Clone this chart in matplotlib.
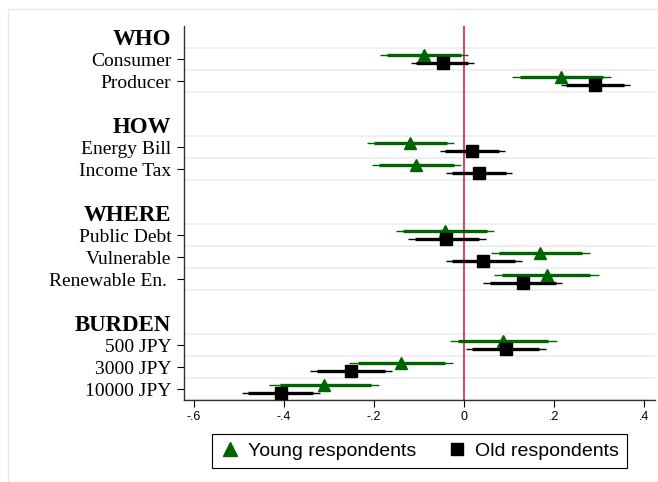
import matplotlib
matplotlib.use("Agg")
import matplotlib.pyplot as plt
from matplotlib.lines import Line2D
from matplotlib.patches import Rectangle

# ---- data ----
labels = ["WHO", "Consumer", "Producer", "",
          "HOW", "Energy Bill", "Income Tax", "",
          "WHERE", "Public Debt", "Vulnerable", "Renewable En. ", "",
          "BURDEN", "500 JPY", "3000 JPY", "10000 JPY"]
headers = ["WHO", "HOW", "WHERE", "BURDEN"]
rows = [1, 2, 5, 6, 9, 10, 11, 14, 15, 16]

young_est  = [-0.089, 0.215, -0.120, -0.107, -0.042, 0.169, 0.184, 0.086, -0.141, -0.311]
young_lo90 = [-0.171, 0.124, -0.200, -0.188, -0.135, 0.078, 0.085, -0.013, -0.236, -0.409]
young_hi90 = [-0.007, 0.308, -0.037, -0.022, 0.050, 0.263, 0.280, 0.187, -0.042, -0.207]
young_lo95 = [-0.187, 0.106, -0.215, -0.205, -0.152, 0.059, 0.067, -0.031, -0.255, -0.433]
young_hi95 = [0.009, 0.326, -0.022, -0.007, 0.067, 0.281, 0.300, 0.206, -0.025, -0.188]

old_est  = [-0.047, 0.291, 0.018, 0.033, -0.039, 0.043, 0.130, 0.093, -0.251, -0.407]
old_lo90 = [-0.107, 0.227, -0.042, -0.027, -0.109, -0.026, 0.058, 0.017, -0.327, -0.479]
old_hi90 = [0.009, 0.356, 0.078, 0.093, 0.033, 0.113, 0.204, 0.167, -0.176, -0.335]
old_lo95 = [-0.118, 0.215, -0.053, -0.040, -0.124, -0.041, 0.043, 0.004, -0.342, -0.494]
old_hi95 = [0.022, 0.369, 0.091, 0.106, 0.048, 0.128, 0.217, 0.182, -0.161, -0.320]

xticks = [-0.6, -0.4, -0.2, 0, 0.2, 0.4]
xticklabels = ["-.6", "-.4", "-.2", "0", ".2", ".4"]

legend_labels = ["Young respondents", "Old respondents"]

# ---- style ----
GREEN = "#006400"
BLACK = "#000000"
RED = "#d0103a"
GRID = "#eaeff2"
off = 0.19

fig = plt.figure(figsize=(6.58, 4.82), dpi=100)
fig.patches.append(Rectangle((8 / 658, 0), 1.0, 1 - 9 / 482, transform=fig.transFigure,
                             fill=False, edgecolor="#e3eaed", linewidth=1.0, zorder=0))
ax = fig.add_axes([184 / 658, 1 - 400 / 482, (655 - 184) / 658, (400 - 26) / 482])

# gridlines at row boundaries
for r in rows:
    for g in (r - 0.5, r + 0.5):
        ax.axhline(g, color=GRID, linewidth=1.3, zorder=0)

ax.axvline(0, color=RED, linewidth=1.1, zorder=1)

for i, r in enumerate(rows):
    y = r - off
    ax.plot([young_lo95[i], young_hi95[i]], [y, y], color=GREEN, linewidth=1.0, zorder=2,
            solid_capstyle="butt")
    ax.plot([young_lo90[i], young_hi90[i]], [y, y], color=GREEN, linewidth=2.4, zorder=2,
            solid_capstyle="butt")
    y = r + off
    ax.plot([old_lo95[i], old_hi95[i]], [y, y], color=BLACK, linewidth=1.0, zorder=2,
            solid_capstyle="butt")
    ax.plot([old_lo90[i], old_hi90[i]], [y, y], color=BLACK, linewidth=2.4, zorder=2,
            solid_capstyle="butt")

ax.plot(young_est, [r - off for r in rows], linestyle="none", marker="^", markersize=9,
        color=GREEN, zorder=3)
ax.plot(old_est, [r + off for r in rows], linestyle="none", marker="s", markersize=8,
        color=BLACK, zorder=3)

ax.set_xlim(-0.6222, 0.4244)
ax.set_ylim(16.5, -0.5)

ax.spines["top"].set_visible(False)
ax.spines["right"].set_visible(False)
for s in ("left", "bottom"):
    ax.spines[s].set_linewidth(1.0)
    ax.spines[s].set_color("#333333")

ax.set_xticks(xticks)
ax.set_xticklabels(xticklabels, fontfamily="Liberation Sans", fontsize=9)
ax.tick_params(axis="x", length=5, width=0.8, pad=3)

yticks = [i for i, l in enumerate(labels) if l != ""]
ax.set_yticks(yticks)
ax.set_yticklabels([labels[i] for i in yticks], fontfamily="Liberation Serif", fontsize=14)
ax.tick_params(axis="y", length=5, width=0.8, pad=4)
for t, tl, i in zip(ax.yaxis.get_major_ticks(), ax.get_yticklabels(), yticks):
    if labels[i] in headers:
        tl.set_fontweight("bold")
        tl.set_fontsize(16.5)
        t.tick1line.set_visible(False)

handles = [Line2D([], [], linestyle="none", marker="^", markersize=10, color=GREEN),
           Line2D([], [], linestyle="none", marker="s", markersize=8, color=BLACK)]
leg = fig.legend(handles, legend_labels, loc="center", ncol=2,
                 bbox_to_anchor=((213 + 626) / 2 / 658, 1 - 451 / 482),
                 prop={"family": "Liberation Sans", "size": 14},
                 frameon=True, fancybox=False, edgecolor="black", framealpha=1,
                 handlelength=1.0, handletextpad=0.43, columnspacing=1.6,
                 borderpad=0.4)
leg.get_frame().set_linewidth(0.8)

fig.savefig("out.png", dpi=100)
